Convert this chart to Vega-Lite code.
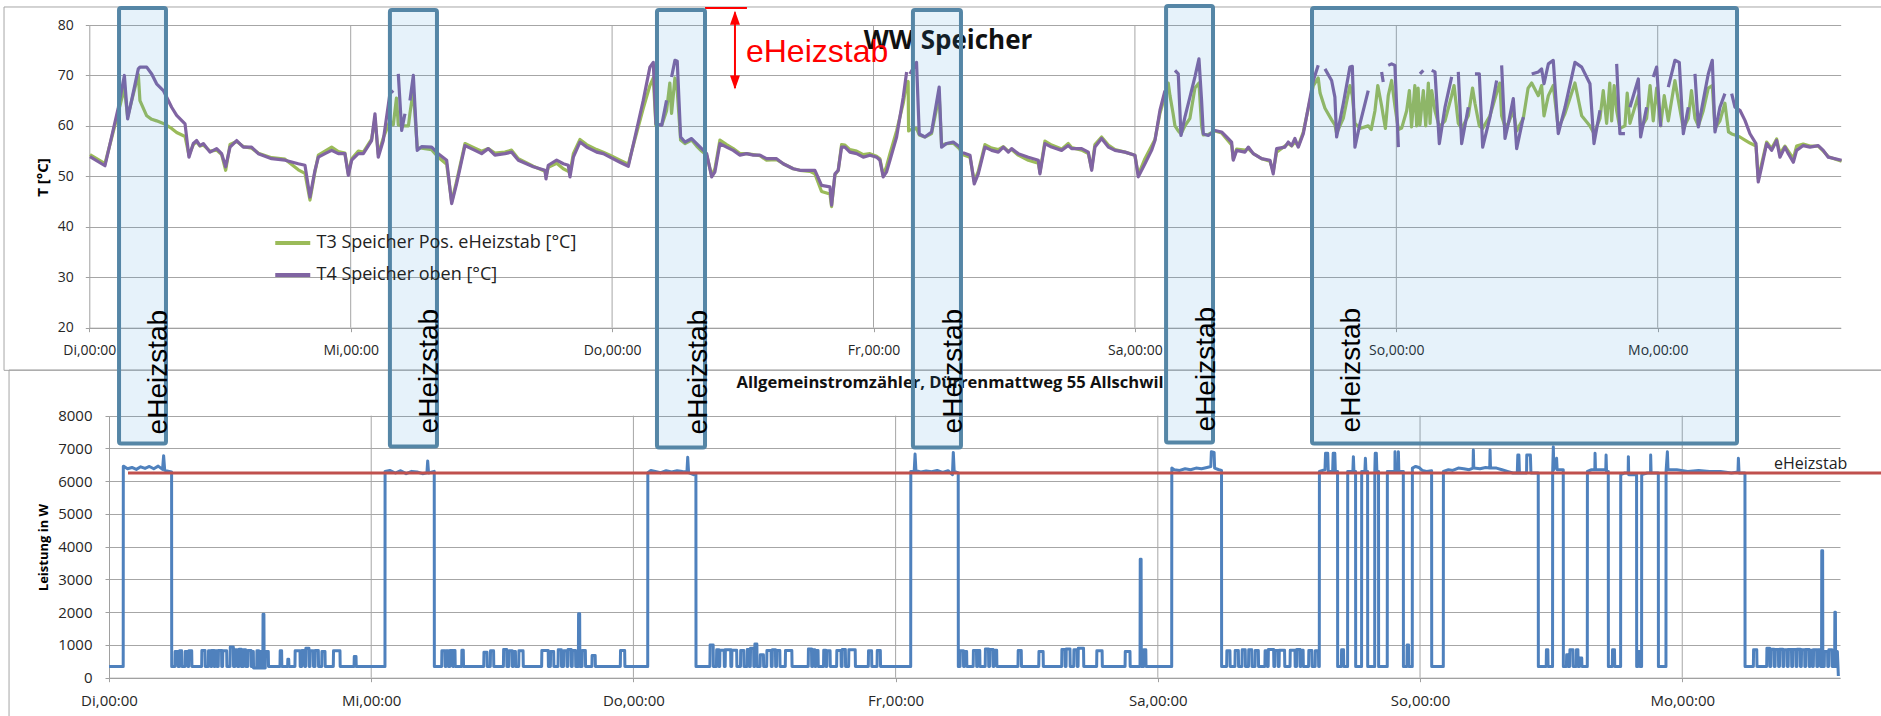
{
"$schema":"https://vega.github.io/schema/vega-lite/v6.json",
"width":1881,"height":716,"autosize":{"type":"none"},"padding":0,"background":"white",
"config":{"view":{"stroke":null},"font":"Open Sans"},
"datasets":{
"t":[
{"h":0.06,"a":54.3,"b":53.9},{"h":1.44,"a":52.5,"b":52.1},{"h":2.67,"a":62.8,"b":63.7},{"h":3.22,"a":67.5,"b":70.0},{"h":3.52,"a":61.8,"b":61.4},{"h":4.5,"a":70.2,"b":71.3},{"h":4.65,"a":65.0,"b":71.65},{"h":5.27,"a":62.0,"b":71.65},{"h":5.73,"a":61.3,"b":70.3},{"h":6.18,"a":61.0,"b":68.35},{"h":6.8,"a":60.5,"b":67.0},{"h":7.56,"a":59.5,"b":63.7},{"h":8.02,"a":58.7,"b":62.1},{"h":8.79,"a":57.9,"b":60.4},{"h":9.15,"a":54.2,"b":53.8},{"h":9.55,"a":56.3,"b":56.5},{"h":9.86,"a":56.8,"b":57.1},{"h":10.16,"a":56.0,"b":56.1},{"h":10.47,"a":56.2,"b":56.5},{"h":11.08,"a":55.0,"b":54.8},{"h":11.69,"a":55.2,"b":55.5},{"h":12.15,"a":54.3,"b":54.5},{"h":12.52,"a":51.2,"b":51.9},{"h":12.92,"a":56.3,"b":55.8},{"h":13.53,"a":56.9,"b":57.1},{"h":14.14,"a":55.9,"b":55.8},{"h":14.9,"a":55.6,"b":55.8},{"h":15.52,"a":54.6,"b":54.5},{"h":16.74,"a":53.7,"b":53.5},{"h":17.97,"a":53.4,"b":53.2},{"h":19.19,"a":51.3,"b":52.5},{"h":19.8,"a":50.6,"b":52.2},{"h":20.26,"a":45.3,"b":45.9},{"h":20.72,"a":50.9,"b":51.2},{"h":21.03,"a":54.2,"b":53.8},{"h":21.64,"a":55.0,"b":54.5},{"h":22.25,"a":55.8,"b":55.15},{"h":22.86,"a":54.9,"b":54.5},{"h":23.47,"a":54.6,"b":54.5},{"h":23.78,"a":50.5,"b":50.2},{"h":24.09,"a":53.5,"b":53.2},{"h":24.7,"a":55.0,"b":54.5},{"h":25.16,"a":54.8,"b":54.5},{"h":25.92,"a":57.4,"b":57.1},{"h":26.23,"a":61.5,"b":62.4},{"h":26.53,"a":54.4,"b":53.8},{"h":26.99,"a":57.6,"b":57.1},{"h":27.6,"a":61.0,"b":66.4},{"h":27.91,"a":60.2,"b":67.0},{"h":28.2,"a":65.5},{"h":28.37,"a":60.2,"b":70.3},{"h":28.68,"a":60.0,"b":59.1},{"h":28.98,"a":60.0,"b":62.4},{"h":29.3,"a":60.0},{"h":29.44,"a":62.5,"b":65.05},{"h":29.75,"a":67.0,"b":70.0},{"h":30.11,"a":55.6,"b":55.15},{"h":30.51,"a":55.6,"b":55.9},{"h":31.43,"a":55.3,"b":55.8},{"h":32.04,"a":53.8,"b":54.5},{"h":32.81,"a":52.4,"b":53.2},{"h":33.27,"a":45.0,"b":44.6},{"h":33.72,"a":49.0,"b":48.5},{"h":34.49,"a":56.5,"b":56.1},{"h":35.41,"a":55.6,"b":55.15},{"h":36.02,"a":55.0,"b":54.5},{"h":36.63,"a":55.5,"b":55.5},{"h":37.24,"a":54.6,"b":54.2},{"h":38.16,"a":54.8,"b":54.5},{"h":38.77,"a":55.2,"b":54.8},{"h":39.39,"a":53.5,"b":53.2},{"h":40.76,"a":52.0,"b":51.9},{"h":41.84,"a":51.0,"b":51.2},{"h":41.93,"a":50.0,"b":49.5},{"h":42.14,"a":51.8,"b":52.2},{"h":42.91,"a":52.6,"b":53.2},{"h":43.52,"a":51.5,"b":52.5},{"h":43.98,"a":51.0,"b":52.2},{"h":44.13,"a":50.6,"b":49.9},{"h":44.44,"a":54.5,"b":53.8},{"h":45.05,"a":57.3,"b":56.8},{"h":45.66,"a":56.3,"b":55.8},{"h":46.58,"a":55.3,"b":54.8},{"h":47.19,"a":54.8,"b":54.5},{"h":47.8,"a":54.2,"b":53.8},{"h":48.72,"a":53.2,"b":52.8},{"h":49.49,"a":52.4,"b":52.0},{"h":50.1,"a":57.4,"b":57.8},{"h":50.86,"a":63.5,"b":65.05},{"h":51.47,"a":68.0,"b":71.65},{"h":51.78,"a":69.5,"b":72.6},{"h":52.02,"a":60.1,"b":60.4},{"h":52.55,"a":60.1,"b":60.1},{"h":53.0,"a":63.0,"b":65.05},{"h":53.3,"a":68.5},{"h":53.46,"a":62.5,"b":69.7},{"h":53.77,"a":69.5,"b":73.0},{"h":53.98,"a":67.0,"b":72.8},{"h":54.17,"a":61.0,"b":63.7},{"h":54.29,"a":57.2,"b":57.8},{"h":54.69,"a":56.5,"b":56.8},{"h":55.3,"a":57.2,"b":57.5},{"h":55.76,"a":56.0,"b":56.5},{"h":56.22,"a":55.0,"b":55.5},{"h":56.68,"a":54.2,"b":54.5},{"h":57.14,"a":50.2,"b":49.9},{"h":57.44,"a":51.5,"b":50.9},{"h":57.9,"a":57.2,"b":56.5},{"h":58.51,"a":56.3,"b":55.8},{"h":59.12,"a":55.5,"b":55.15},{"h":59.74,"a":54.5,"b":54.2},{"h":60.35,"a":54.5,"b":54.5},{"h":60.96,"a":54.3,"b":54.2},{"h":61.57,"a":54.1,"b":54.2},{"h":62.18,"a":53.2,"b":53.5},{"h":63.1,"a":53.3,"b":53.5},{"h":63.71,"a":52.5,"b":52.5},{"h":64.63,"a":51.5,"b":51.5},{"h":65.24,"a":51.2,"b":51.2},{"h":66.16,"a":51.0,"b":51.2},{"h":66.62,"a":50.5,"b":51.2},{"h":67.23,"a":47.0,"b":48.2},{"h":68.0,"a":46.5,"b":47.9},{"h":68.15,"a":44.0,"b":44.3},{"h":68.46,"a":50.3,"b":50.5},{"h":68.76,"a":51.2,"b":51.2},{"h":69.07,"a":56.3,"b":55.8},{"h":69.38,"a":56.2,"b":55.8},{"h":69.83,"a":55.3,"b":54.8},{"h":70.45,"a":55.0,"b":54.5},{"h":71.06,"a":54.3,"b":53.8},{"h":71.67,"a":54.5,"b":54.2},{"h":72.28,"a":54.0,"b":53.8},{"h":72.59,"a":53.5,"b":53.2},{"h":72.89,"a":50.2,"b":49.9},{"h":73.2,"a":52.0,"b":50.9},{"h":73.51,"a":54.5,"b":53.2},{"h":74.12,"a":59.0,"b":57.8},{"h":74.73,"a":64.5,"b":65.7},{"h":75.04,"a":68.5,"b":70.7},{"h":75.18,"a":68.8},{"h":75.22,"a":59.0},{"h":75.34,"a":59.2,"b":70.3},{"h":75.95,"a":59.5,"b":72.6},{"h":76.2,"a":58.2,"b":58.4},{"h":76.72,"a":57.8,"b":57.8},{"h":77.33,"a":58.5,"b":58.8},{"h":78.03,"a":66.0,"b":67.7},{"h":78.25,"a":56.2,"b":55.8},{"h":78.71,"a":56.5,"b":56.5},{"h":79.32,"a":56.6,"b":56.8},{"h":79.93,"a":55.4,"b":55.8},{"h":80.09,"a":54.4,"b":54.8},{"h":80.86,"a":53.8,"b":54.2},{"h":81.25,"a":49.0,"b":48.5},{"h":81.62,"a":51.0,"b":50.5},{"h":82.23,"a":56.3,"b":55.8},{"h":82.85,"a":55.6,"b":55.15},{"h":83.46,"a":55.3,"b":54.8},{"h":83.92,"a":55.9,"b":55.8},{"h":84.38,"a":55.0,"b":54.8},{"h":84.68,"a":55.3,"b":55.5},{"h":85.29,"a":54.2,"b":54.5},{"h":86.21,"a":53.2,"b":53.8},{"h":87.13,"a":52.6,"b":53.2},{"h":87.28,"a":50.8,"b":50.5},{"h":87.74,"a":57.0,"b":56.5},{"h":88.35,"a":56.2,"b":55.8},{"h":89.27,"a":55.4,"b":55.15},{"h":89.88,"a":56.5,"b":56.1},{"h":90.19,"a":55.7,"b":55.5},{"h":91.11,"a":55.2,"b":55.5},{"h":91.72,"a":54.5,"b":54.8},{"h":92.03,"a":51.5,"b":51.2},{"h":92.33,"a":56.3,"b":55.8},{"h":92.94,"a":57.8,"b":57.5},{"h":93.56,"a":56.2,"b":55.8},{"h":94.17,"a":55.3,"b":55.15},{"h":95.09,"a":54.8,"b":54.8},{"h":96.0,"a":54.2,"b":54.2},{"h":96.31,"a":50.3,"b":49.9},{"h":96.92,"a":53.5,"b":52.5},{"h":97.53,"a":56.0,"b":55.15},{"h":97.84,"a":57.3,"b":57.1},{"h":98.3,"a":62.5,"b":63.1},{"h":98.76,"a":66.0,"b":67.0},{"h":99.06,"a":68.5},{"h":99.22,"a":66.0,"b":71.3},{"h":99.5,"a":62.5},{"h":99.68,"a":60.0,"b":71.0},{"h":99.98,"a":59.0,"b":70.3},{"h":100.23,"a":58.4,"b":58.1},{"h":100.59,"a":60.0,"b":61.75},{"h":101.05,"a":61.5,"b":65.7},{"h":101.51,"a":67.5,"b":69.7},{"h":101.88,"a":68.5,"b":73.3},{"h":102.12,"a":60.0,"b":65.05},{"h":102.28,"a":58.2,"b":58.45},{"h":102.74,"a":58.3,"b":58.1},{"h":103.35,"a":59.0,"b":59.1},{"h":103.96,"a":58.6,"b":58.8},{"h":104.42,"a":57.4,"b":57.8},{"h":104.88,"a":56.2,"b":56.8},{"h":105.03,"a":53.5,"b":53.2},{"h":105.34,"a":55.4,"b":55.15},{"h":106.1,"a":55.2,"b":54.8},{"h":106.41,"a":55.5,"b":55.8},{"h":106.87,"a":54.5,"b":54.5},{"h":107.63,"a":53.5,"b":53.5},{"h":108.4,"a":53.0,"b":53.2},{"h":108.7,"a":51.0,"b":50.5},{"h":109.01,"a":54.8,"b":55.5},{"h":109.77,"a":56.0,"b":55.8},{"h":110.08,"a":56.5,"b":56.8},{"h":110.39,"a":56.0,"b":56.1},{"h":110.69,"a":56.8,"b":57.5},{"h":111.0,"a":56.0,"b":55.8},{"h":111.46,"a":58.8,"b":58.45},{"h":111.92,"a":63.5,"b":63.7},{"h":112.38,"a":68.0,"b":69.0},{"h":112.83,"a":69.5,"b":72.0},{"h":113.0,"a":66.5},{"h":113.45,"a":63.5,"b":71.3},{"h":114.06,"a":61.2,"b":69.0},{"h":114.36,"a":60.2,"b":65.7},{"h":114.52,"a":58.5,"b":57.8},{"h":115.13,"a":61.5,"b":64.4},{"h":115.74,"a":68.0,"b":71.65},{"h":115.96,"a":66.0,"b":71.8},{"h":116.2,"a":60.5,"b":55.8},{"h":116.66,"a":59.5,"b":60.4},{"h":117.42,"a":60.0,"b":67.0},{"h":117.7,"a":59.3},{"h":118.04,"a":63.0,"b":71.3},{"h":118.3,"a":68.0},{"h":118.65,"a":64.0,"b":70.7},{"h":118.8,"a":62.0,"b":68.7},{"h":119.0,"a":59.5},{"h":119.26,"a":66.0,"b":72.0},{"h":119.57,"a":69.0,"b":72.3},{"h":119.87,"a":64.0,"b":72.0},{"h":120.19,"a":59.3,"b":55.8},{"h":120.5,"a":59.6},{"h":120.95,"a":63.0,"b":63.7},{"h":121.2,"a":67.0},{"h":121.4,"a":59.8},{"h":121.56,"a":64.0,"b":68.7},{"h":121.7,"a":68.0},{"h":121.87,"a":60.0,"b":69.0},{"h":122.0,"a":67.5},{"h":122.17,"a":60.2,"b":70.3},{"h":122.48,"a":67.0,"b":71.0},{"h":122.7,"a":60.0},{"h":122.94,"a":68.5,"b":71.3},{"h":123.1,"a":60.5},{"h":123.25,"a":67.0,"b":71.0},{"h":123.55,"a":63.0,"b":70.7},{"h":123.95,"a":59.8,"b":56.5},{"h":124.47,"a":61.0,"b":63.7},{"h":125.08,"a":66.0,"b":69.7},{"h":125.3,"a":68.0},{"h":125.69,"a":60.5,"b":70.7},{"h":126.0,"a":59.5,"b":56.5},{"h":126.61,"a":62.0,"b":63.7},{"h":127.0,"a":67.5},{"h":127.22,"a":64.5,"b":70.3},{"h":127.62,"a":60.0,"b":70.3},{"h":127.93,"a":59.5,"b":55.8},{"h":128.6,"a":62.0,"b":61.75},{"h":129.21,"a":66.5,"b":69.0},{"h":129.5,"a":68.5},{"h":129.67,"a":62.0,"b":72.0},{"h":129.98,"a":59.8,"b":57.5},{"h":130.28,"a":60.5,"b":60.4},{"h":130.74,"a":63.0,"b":65.4},{"h":131.05,"a":59.0,"b":55.5},{"h":131.66,"a":61.5,"b":61.75},{"h":132.1,"a":67.5},{"h":132.43,"a":68.5,"b":70.3},{"h":133.04,"a":66.0,"b":70.7},{"h":133.34,"a":68.0,"b":71.3},{"h":133.56,"a":62.0,"b":68.35},{"h":133.96,"a":66.0,"b":72.3},{"h":134.41,"a":68.0,"b":73.0},{"h":134.87,"a":59.5,"b":58.45},{"h":135.49,"a":62.5,"b":63.7},{"h":136.4,"a":68.5,"b":72.6},{"h":137.02,"a":62.0,"b":71.65},{"h":137.78,"a":60.0,"b":68.35},{"h":138.15,"a":58.5,"b":56.5},{"h":138.7,"a":61.5,"b":63.1},{"h":139.0,"a":67.0},{"h":139.31,"a":60.5,"b":69.0},{"h":139.6,"a":68.5},{"h":139.77,"a":61.0,"b":72.0},{"h":140.0,"a":68.0},{"h":140.23,"a":63.0,"b":72.3},{"h":140.53,"a":59.5,"b":58.45},{"h":140.99,"a":60.0,"b":58.45},{"h":141.2,"a":66.5},{"h":141.45,"a":60.5,"b":63.7},{"h":142.22,"a":66.0,"b":69.3},{"h":142.43,"a":59.5,"b":57.8},{"h":142.98,"a":61.5,"b":63.7},{"h":143.3,"a":68.0},{"h":143.59,"a":61.0,"b":69.7},{"h":143.9,"a":67.5,"b":71.65},{"h":144.27,"a":60.0,"b":59.8},{"h":144.6,"a":66.0},{"h":144.97,"a":61.0,"b":67.7},{"h":145.58,"a":69.0,"b":73.0},{"h":145.98,"a":64.0,"b":72.6},{"h":146.35,"a":59.5,"b":58.45},{"h":146.81,"a":61.5,"b":63.7},{"h":147.1,"a":67.0},{"h":147.42,"a":61.5,"b":70.3},{"h":147.73,"a":60.0,"b":59.8},{"h":148.18,"a":63.0,"b":65.05},{"h":148.64,"a":67.5,"b":70.3},{"h":149.01,"a":68.0,"b":73.0},{"h":149.26,"a":59.5,"b":58.8},{"h":149.71,"a":61.0,"b":63.7},{"h":150.17,"a":64.5,"b":66.4},{"h":150.5,"a":58.8},{"h":150.79,"a":58.4,"b":66.4},{"h":151.09,"a":58.2,"b":63.7},{"h":151.55,"a":57.8,"b":63.1},{"h":152.01,"a":57.2,"b":61.1},{"h":152.47,"a":56.6,"b":58.45},{"h":153.02,"a":56.0,"b":56.5},{"h":153.23,"a":49.5,"b":48.9},{"h":153.54,"a":52.5,"b":51.85},{"h":154.0,"a":56.8,"b":56.5},{"h":154.46,"a":55.5,"b":55.15},{"h":154.92,"a":57.4,"b":57.1},{"h":155.22,"a":54.5,"b":53.8},{"h":155.68,"a":56.0,"b":55.8},{"h":155.99,"a":55.0,"b":54.5},{"h":156.45,"a":53.5,"b":52.8},{"h":156.75,"a":56.0,"b":55.15},{"h":157.36,"a":56.4,"b":56.1},{"h":157.98,"a":56.0,"b":55.8},{"h":158.74,"a":56.0,"b":56.1},{"h":159.2,"a":55.0,"b":55.15},{"h":159.66,"a":53.9,"b":53.8},{"h":160.88,"a":53.0,"b":53.2}
],
"p":[
{"h":0,"p":340},{"h":1.3,"p":340},{"h":1.31,"p":6460},{"h":1.7,"p":6380},{"h":2.1,"p":6420},{"h":2.5,"p":6360},{"h":2.9,"p":6440},{"h":3.3,"p":6390},{"h":3.7,"p":6450},{"h":4.1,"p":6380},{"h":4.5,"p":6460},{"h":4.9,"p":6360},{"h":5.0,"p":6780},{"h":5.1,"p":6330},{"h":5.5,"p":6300},{"h":5.73,"p":6280},{"h":5.74,"p":340},
{"h":6.04,"p":340},{"h":6.06,"p":800},{"h":6.3,"p":800},{"h":6.32,"p":340},{"h":6.45,"p":340},{"h":6.47,"p":820},{"h":6.65,"p":820},{"h":6.67,"p":340},{"h":6.96,"p":340},{"h":6.98,"p":800},{"h":7.2,"p":800},{"h":7.22,"p":340},{"h":7.3,"p":340},{"h":7.32,"p":820},{"h":7.57,"p":820},{"h":7.59,"p":340},{"h":8.48,"p":340},{"h":8.5,"p":830},{"h":8.79,"p":830},{"h":8.81,"p":340},{"h":9.09,"p":340},{"h":9.11,"p":820},{"h":9.3,"p":820},{"h":9.32,"p":340},{"h":9.4,"p":340},{"h":9.42,"p":830},{"h":9.6,"p":830},{"h":9.62,"p":340},{"h":9.7,"p":340},{"h":9.72,"p":820},{"h":9.86,"p":820},{"h":9.88,"p":340},{"h":10.0,"p":340},{"h":10.02,"p":830},{"h":10.3,"p":830},{"h":10.32,"p":340},{"h":10.4,"p":340},{"h":10.42,"p":820},{"h":10.77,"p":820},{"h":10.79,"p":340},{"h":11.08,"p":340},{"h":11.1,"p":940},{"h":11.38,"p":940},{"h":11.4,"p":340},{"h":11.53,"p":340},{"h":11.55,"p":850},{"h":11.75,"p":850},{"h":11.77,"p":340},{"h":11.9,"p":340},{"h":11.92,"p":870},{"h":12.1,"p":870},{"h":12.12,"p":340},{"h":12.3,"p":340},{"h":12.32,"p":850},{"h":12.5,"p":850},{"h":12.52,"p":340},{"h":12.7,"p":340},{"h":12.72,"p":830},{"h":13.0,"p":830},{"h":13.02,"p":340},{"h":13.1,"p":340},{"h":13.12,"p":800},{"h":13.21,"p":800},{"h":13.23,"p":300},{"h":13.52,"p":300},{"h":13.54,"p":820},{"h":13.7,"p":820},{"h":13.72,"p":300},{"h":13.8,"p":300},{"h":13.82,"p":800},{"h":13.97,"p":800},{"h":13.99,"p":300},{"h":14.08,"p":300},{"h":14.1,"p":1940},{"h":14.18,"p":1940},{"h":14.2,"p":300},{"h":14.3,"p":300},{"h":14.32,"p":800},{"h":14.58,"p":800},{"h":14.6,"p":340},{"h":15.65,"p":340},{"h":15.67,"p":820},{"h":15.8,"p":820},{"h":15.82,"p":340},{"h":16.35,"p":340},{"h":16.37,"p":560},{"h":16.45,"p":560},{"h":16.47,"p":340},{"h":17.02,"p":340},{"h":17.04,"p":820},{"h":17.48,"p":820},{"h":17.5,"p":340},{"h":17.64,"p":340},{"h":17.66,"p":830},{"h":17.9,"p":830},{"h":17.92,"p":340},{"h":18.0,"p":340},{"h":18.02,"p":900},{"h":18.3,"p":900},{"h":18.32,"p":340},{"h":18.4,"p":340},{"h":18.42,"p":820},{"h":18.7,"p":820},{"h":18.72,"p":340},{"h":18.86,"p":340},{"h":18.88,"p":830},{"h":19.16,"p":830},{"h":19.18,"p":340},{"h":19.47,"p":340},{"h":19.49,"p":800},{"h":19.77,"p":800},{"h":19.79,"p":340},{"h":20.53,"p":340},{"h":20.55,"p":820},{"h":21.14,"p":820},{"h":21.16,"p":340},{"h":22.43,"p":340},{"h":22.45,"p":650},{"h":22.61,"p":650},{"h":22.63,"p":340},
{"h":25.26,"p":340},{"h":25.27,"p":6300},{"h":25.7,"p":6330},{"h":26.2,"p":6250},{"h":26.7,"p":6320},{"h":27.2,"p":6230},{"h":27.7,"p":6300},{"h":28.2,"p":6280},{"h":28.7,"p":6230},{"h":29.1,"p":6260},{"h":29.17,"p":6620},{"h":29.25,"p":6250},{"h":29.77,"p":6300},{"h":29.78,"p":340},
{"h":30.45,"p":340},{"h":30.47,"p":820},{"h":30.75,"p":820},{"h":30.77,"p":340},{"h":30.85,"p":340},{"h":30.87,"p":820},{"h":31.06,"p":820},{"h":31.08,"p":340},{"h":31.21,"p":340},{"h":31.23,"p":830},{"h":31.45,"p":830},{"h":31.47,"p":340},{"h":31.55,"p":340},{"h":31.57,"p":830},{"h":31.67,"p":830},{"h":31.69,"p":340},{"h":32.28,"p":340},{"h":32.3,"p":840},{"h":32.43,"p":840},{"h":32.45,"p":340},{"h":34.3,"p":340},{"h":34.32,"p":780},{"h":34.6,"p":780},{"h":34.62,"p":340},{"h":34.9,"p":340},{"h":34.92,"p":820},{"h":35.2,"p":820},{"h":35.22,"p":340},{"h":36.1,"p":340},{"h":36.12,"p":860},{"h":36.4,"p":860},{"h":36.42,"p":340},{"h":36.6,"p":340},{"h":36.62,"p":820},{"h":36.9,"p":820},{"h":36.92,"p":340},{"h":37.0,"p":340},{"h":37.02,"p":800},{"h":37.2,"p":800},{"h":37.22,"p":340},{"h":37.5,"p":340},{"h":37.52,"p":820},{"h":37.9,"p":820},{"h":37.92,"p":340},{"h":39.6,"p":340},{"h":39.62,"p":830},{"h":40.2,"p":830},{"h":40.22,"p":340},{"h":40.4,"p":340},{"h":40.42,"p":800},{"h":40.7,"p":800},{"h":40.72,"p":340},{"h":41.1,"p":340},{"h":41.12,"p":850},{"h":41.4,"p":850},{"h":41.42,"p":340},{"h":41.6,"p":340},{"h":41.62,"p":820},{"h":41.9,"p":820},{"h":41.92,"p":340},{"h":42.0,"p":340},{"h":42.02,"p":860},{"h":42.3,"p":860},{"h":42.32,"p":340},{"h":42.4,"p":340},{"h":42.42,"p":830},{"h":42.7,"p":830},{"h":42.72,"p":340},{"h":42.96,"p":340},{"h":42.98,"p":1950},{"h":43.08,"p":1950},{"h":43.1,"p":340},{"h":43.3,"p":340},{"h":43.32,"p":830},{"h":43.6,"p":830},{"h":43.62,"p":340},{"h":44.2,"p":340},{"h":44.22,"p":680},{"h":44.5,"p":680},{"h":44.52,"p":340},{"h":46.8,"p":340},{"h":46.82,"p":830},{"h":47.2,"p":830},{"h":47.22,"p":340},
{"h":49.31,"p":340},{"h":49.32,"p":6260},{"h":49.6,"p":6330},{"h":50.0,"p":6300},{"h":50.5,"p":6260},{"h":51.0,"p":6320},{"h":51.5,"p":6280},{"h":52.0,"p":6320},{"h":52.5,"p":6300},{"h":52.9,"p":6290},{"h":52.97,"p":6730},{"h":53.05,"p":6260},{"h":53.5,"p":6200},{"h":53.72,"p":6240},{"h":53.73,"p":340},
{"h":55.0,"p":340},{"h":55.02,"p":1000},{"h":55.3,"p":1000},{"h":55.32,"p":340},{"h":55.6,"p":340},{"h":55.62,"p":850},{"h":55.8,"p":850},{"h":55.82,"p":340},{"h":55.9,"p":340},{"h":55.92,"p":840},{"h":56.3,"p":840},{"h":56.32,"p":340},{"h":56.4,"p":340},{"h":56.42,"p":850},{"h":56.9,"p":850},{"h":56.92,"p":340},{"h":57.0,"p":340},{"h":57.02,"p":840},{"h":57.45,"p":840},{"h":57.47,"p":340},{"h":57.8,"p":340},{"h":57.82,"p":830},{"h":58.1,"p":830},{"h":58.12,"p":340},{"h":58.4,"p":340},{"h":58.42,"p":860},{"h":58.6,"p":860},{"h":58.62,"p":340},{"h":58.7,"p":340},{"h":58.72,"p":900},{"h":59.0,"p":900},{"h":59.02,"p":340},{"h":59.1,"p":340},{"h":59.12,"p":1030},{"h":59.3,"p":1030},{"h":59.32,"p":340},{"h":59.6,"p":340},{"h":59.62,"p":700},{"h":59.9,"p":700},{"h":59.92,"p":340},{"h":60.2,"p":340},{"h":60.22,"p":830},{"h":60.6,"p":830},{"h":60.62,"p":340},{"h":60.7,"p":340},{"h":60.72,"p":850},{"h":61.0,"p":850},{"h":61.02,"p":340},{"h":61.1,"p":340},{"h":61.12,"p":830},{"h":61.4,"p":830},{"h":61.42,"p":340},{"h":61.9,"p":340},{"h":61.92,"p":830},{"h":62.5,"p":830},{"h":62.52,"p":340},{"h":64.0,"p":340},{"h":64.02,"p":880},{"h":64.3,"p":880},{"h":64.32,"p":340},{"h":64.4,"p":340},{"h":64.42,"p":850},{"h":64.6,"p":850},{"h":64.62,"p":340},{"h":64.7,"p":340},{"h":64.72,"p":830},{"h":64.9,"p":830},{"h":64.92,"p":340},{"h":65.4,"p":340},{"h":65.42,"p":840},{"h":65.6,"p":840},{"h":65.62,"p":340},{"h":65.7,"p":340},{"h":65.72,"p":820},{"h":66.0,"p":820},{"h":66.02,"p":340},{"h":66.6,"p":340},{"h":66.62,"p":830},{"h":67.0,"p":830},{"h":67.02,"p":340},{"h":67.1,"p":340},{"h":67.12,"p":860},{"h":67.4,"p":860},{"h":67.42,"p":340},{"h":67.7,"p":340},{"h":67.72,"p":850},{"h":68.3,"p":850},{"h":68.32,"p":340},{"h":69.5,"p":340},{"h":69.52,"p":820},{"h":69.8,"p":820},{"h":69.82,"p":340},{"h":70.3,"p":340},{"h":70.32,"p":830},{"h":70.6,"p":830},{"h":70.62,"p":340},
{"h":73.38,"p":340},{"h":73.39,"p":6300},{"h":73.7,"p":6300},{"h":73.78,"p":6830},{"h":73.86,"p":6320},{"h":74.3,"p":6280},{"h":74.8,"p":6310},{"h":75.3,"p":6290},{"h":75.8,"p":6330},{"h":76.3,"p":6270},{"h":76.8,"p":6320},{"h":77.2,"p":6200},{"h":77.28,"p":6880},{"h":77.36,"p":6300},{"h":77.73,"p":6250},{"h":77.74,"p":340},
{"h":77.9,"p":340},{"h":77.92,"p":820},{"h":78.2,"p":820},{"h":78.22,"p":340},{"h":78.3,"p":340},{"h":78.32,"p":800},{"h":78.5,"p":800},{"h":78.52,"p":340},{"h":79.1,"p":340},{"h":79.12,"p":830},{"h":79.4,"p":830},{"h":79.42,"p":340},{"h":79.5,"p":340},{"h":79.52,"p":830},{"h":79.7,"p":830},{"h":79.72,"p":340},{"h":80.2,"p":340},{"h":80.22,"p":880},{"h":80.5,"p":880},{"h":80.52,"p":340},{"h":80.6,"p":340},{"h":80.62,"p":860},{"h":80.9,"p":860},{"h":80.92,"p":340},{"h":81.0,"p":340},{"h":81.02,"p":840},{"h":81.25,"p":840},{"h":81.27,"p":340},{"h":83.2,"p":340},{"h":83.22,"p":830},{"h":83.5,"p":830},{"h":83.52,"p":340},{"h":85.1,"p":340},{"h":85.12,"p":800},{"h":85.5,"p":800},{"h":85.52,"p":340},{"h":87.2,"p":340},{"h":87.22,"p":860},{"h":87.5,"p":860},{"h":87.52,"p":340},{"h":87.6,"p":340},{"h":87.62,"p":880},{"h":87.96,"p":880},{"h":87.98,"p":340},{"h":88.3,"p":340},{"h":88.32,"p":850},{"h":88.6,"p":850},{"h":88.62,"p":340},{"h":88.7,"p":340},{"h":88.72,"p":900},{"h":89.2,"p":900},{"h":89.22,"p":340},{"h":90.4,"p":340},{"h":90.42,"p":820},{"h":90.9,"p":820},{"h":90.92,"p":340},{"h":93.0,"p":340},{"h":93.02,"p":800},{"h":93.45,"p":800},{"h":93.47,"p":340},{"h":94.37,"p":340},{"h":94.39,"p":3620},{"h":94.47,"p":3620},{"h":94.49,"p":340},{"h":94.7,"p":340},{"h":94.72,"p":850},{"h":94.9,"p":850},{"h":94.92,"p":340},
{"h":97.27,"p":340},{"h":97.28,"p":6400},{"h":97.5,"p":6350},{"h":98.0,"p":6330},{"h":98.5,"p":6380},{"h":99.0,"p":6350},{"h":99.5,"p":6400},{"h":100.0,"p":6380},{"h":100.5,"p":6420},{"h":100.85,"p":6450},{"h":100.9,"p":6900},{"h":101.15,"p":6880},{"h":101.2,"p":6400},{"h":101.6,"p":6350},{"h":101.83,"p":6330},{"h":101.84,"p":340},
{"h":102.3,"p":340},{"h":102.32,"p":820},{"h":102.6,"p":820},{"h":102.62,"p":340},{"h":103.06,"p":340},{"h":103.08,"p":830},{"h":103.37,"p":830},{"h":103.39,"p":340},{"h":103.7,"p":340},{"h":103.72,"p":850},{"h":104.0,"p":850},{"h":104.02,"p":340},{"h":104.3,"p":340},{"h":104.32,"p":850},{"h":104.6,"p":850},{"h":104.62,"p":340},{"h":104.9,"p":340},{"h":104.92,"p":830},{"h":105.2,"p":830},{"h":105.22,"p":340},{"h":105.8,"p":340},{"h":105.82,"p":820},{"h":106.0,"p":820},{"h":106.02,"p":340},{"h":106.1,"p":340},{"h":106.12,"p":860},{"h":106.6,"p":860},{"h":106.62,"p":340},{"h":106.7,"p":340},{"h":106.72,"p":830},{"h":107.0,"p":830},{"h":107.02,"p":340},{"h":107.1,"p":340},{"h":107.12,"p":840},{"h":107.6,"p":840},{"h":107.62,"p":340},{"h":108.1,"p":340},{"h":108.12,"p":840},{"h":108.55,"p":840},{"h":108.57,"p":340},{"h":108.7,"p":340},{"h":108.72,"p":860},{"h":109.0,"p":860},{"h":109.02,"p":340},{"h":109.1,"p":340},{"h":109.12,"p":840},{"h":109.3,"p":840},{"h":109.32,"p":340},{"h":109.8,"p":340},{"h":109.82,"p":830},{"h":110.1,"p":830},{"h":110.12,"p":340},{"h":110.4,"p":340},{"h":110.42,"p":820},{"h":110.7,"p":820},{"h":110.72,"p":340},
{"h":110.78,"p":340},{"h":110.79,"p":6300},{"h":111.3,"p":6350},{"h":111.35,"p":6850},{"h":111.55,"p":6850},{"h":111.6,"p":6300},{"h":112.0,"p":6300},{"h":112.05,"p":6850},{"h":112.2,"p":6850},{"h":112.25,"p":6300},{"h":112.45,"p":6300},{"h":112.46,"p":340},{"h":112.8,"p":340},{"h":112.82,"p":850},{"h":113.0,"p":850},{"h":113.02,"p":340},{"h":113.37,"p":340},{"h":113.38,"p":6300},{"h":113.85,"p":6300},{"h":113.9,"p":6750},{"h":113.95,"p":6300},{"h":114.1,"p":6300},{"h":114.11,"p":340},{"h":114.65,"p":340},{"h":114.66,"p":6300},{"h":114.95,"p":6300},{"h":115.0,"p":6700},{"h":115.05,"p":6300},{"h":115.2,"p":6300},{"h":115.21,"p":340},{"h":115.85,"p":340},{"h":115.86,"p":6300},{"h":115.9,"p":6850},{"h":116.0,"p":6850},{"h":116.05,"p":6300},{"h":116.2,"p":6300},{"h":116.21,"p":340},{"h":117.0,"p":340},{"h":117.01,"p":6300},{"h":117.7,"p":6300},{"h":117.71,"p":6900},{"h":117.75,"p":6300},{"h":118.0,"p":6300},{"h":118.02,"p":6900},{"h":118.06,"p":6300},{"h":118.47,"p":6300},{"h":118.48,"p":340},{"h":118.8,"p":340},{"h":118.82,"p":1000},{"h":118.95,"p":1000},{"h":118.97,"p":340},{"h":119.29,"p":340},{"h":119.3,"p":6400},{"h":119.6,"p":6450},{"h":119.9,"p":6420},{"h":120.2,"p":6330},{"h":120.6,"p":6300},{"h":121.06,"p":6320},{"h":121.07,"p":340},{"h":122.13,"p":340},{"h":122.14,"p":6300},{"h":122.6,"p":6350},{"h":123.0,"p":6330},{"h":123.5,"p":6400},{"h":124.0,"p":6380},{"h":124.5,"p":6350},{"h":124.85,"p":6400},{"h":124.88,"p":6950},{"h":124.92,"p":6400},{"h":125.5,"p":6380},{"h":126.0,"p":6420},{"h":126.38,"p":6400},{"h":126.41,"p":6950},{"h":126.45,"p":6400},{"h":127.0,"p":6400},{"h":127.5,"p":6350},{"h":128.0,"p":6300},{"h":128.5,"p":6250},{"h":128.9,"p":6250},{"h":128.95,"p":6800},{"h":129.05,"p":6800},{"h":129.1,"p":6250},{"h":129.5,"p":6250},{"h":129.75,"p":6250},{"h":129.77,"p":6800},{"h":130.1,"p":6800},{"h":130.15,"p":6250},{"h":130.82,"p":6250},{"h":130.83,"p":340},{"h":131.55,"p":340},{"h":131.57,"p":850},{"h":131.7,"p":850},{"h":131.72,"p":340},{"h":132.13,"p":340},{"h":132.14,"p":6300},{"h":132.2,"p":7050},{"h":132.25,"p":6350},{"h":132.5,"p":6700},{"h":132.55,"p":6350},{"h":133.11,"p":6350},{"h":133.12,"p":340},{"h":133.4,"p":340},{"h":133.42,"p":700},{"h":133.55,"p":700},{"h":133.57,"p":340},{"h":133.7,"p":340},{"h":133.72,"p":850},{"h":134.0,"p":850},{"h":134.02,"p":340},{"h":134.3,"p":340},{"h":134.32,"p":850},{"h":134.45,"p":850},{"h":134.47,"p":340},{"h":134.6,"p":340},{"h":134.62,"p":600},{"h":134.8,"p":600},{"h":134.82,"p":340},{"h":135.31,"p":340},{"h":135.32,"p":6300},{"h":135.7,"p":6350},{"h":136.0,"p":6350},{"h":136.02,"p":6850},{"h":136.06,"p":6350},{"h":136.6,"p":6350},{"h":137.0,"p":6350},{"h":137.03,"p":6800},{"h":137.07,"p":6300},{"h":137.23,"p":6300},{"h":137.24,"p":340},{"h":137.6,"p":340},{"h":137.62,"p":850},{"h":137.8,"p":850},{"h":137.82,"p":340},{"h":138.36,"p":340},{"h":138.37,"p":6200},{"h":138.7,"p":6250},{"h":139.05,"p":6250},{"h":139.07,"p":6750},{"h":139.1,"p":6200},{"h":139.82,"p":6200},{"h":139.83,"p":340},{"h":139.95,"p":340},{"h":139.97,"p":800},{"h":140.1,"p":800},{"h":140.12,"p":340},{"h":140.28,"p":340},{"h":140.29,"p":6200},{"h":140.8,"p":6250},{"h":141.1,"p":6250},{"h":141.11,"p":6800},{"h":141.15,"p":6250},{"h":141.81,"p":6250},{"h":141.82,"p":340},{"h":142.51,"p":340},{"h":142.52,"p":6300},{"h":142.64,"p":6900},{"h":142.7,"p":6350},{"h":143.5,"p":6350},{"h":144.5,"p":6300},{"h":145.5,"p":6330},{"h":146.5,"p":6300},{"h":147.5,"p":6300},{"h":148.5,"p":6250},{"h":149.1,"p":6280},{"h":149.14,"p":6700},{"h":149.2,"p":6250},{"h":149.74,"p":6250},{"h":149.75,"p":340},
{"h":150.51,"p":340},{"h":150.53,"p":850},{"h":150.82,"p":850},{"h":150.84,"p":340},{"h":151.73,"p":340},{"h":151.75,"p":900},{"h":152.0,"p":900},{"h":152.02,"p":340},{"h":152.1,"p":340},{"h":152.12,"p":870},{"h":152.4,"p":870},{"h":152.42,"p":340},{"h":152.5,"p":340},{"h":152.52,"p":860},{"h":152.8,"p":860},{"h":152.82,"p":340},{"h":152.9,"p":340},{"h":152.92,"p":870},{"h":153.2,"p":870},{"h":153.22,"p":340},{"h":153.3,"p":340},{"h":153.32,"p":850},{"h":153.6,"p":850},{"h":153.62,"p":340},{"h":153.7,"p":340},{"h":153.72,"p":860},{"h":154.0,"p":860},{"h":154.02,"p":340},{"h":154.1,"p":340},{"h":154.12,"p":860},{"h":154.4,"p":860},{"h":154.42,"p":340},{"h":154.5,"p":340},{"h":154.52,"p":870},{"h":154.8,"p":870},{"h":154.82,"p":340},{"h":154.9,"p":340},{"h":154.92,"p":850},{"h":155.2,"p":850},{"h":155.22,"p":340},{"h":155.3,"p":340},{"h":155.32,"p":860},{"h":155.6,"p":860},{"h":155.62,"p":340},{"h":155.7,"p":340},{"h":155.72,"p":840},{"h":155.9,"p":840},{"h":155.92,"p":340},{"h":156.0,"p":340},{"h":156.02,"p":850},{"h":156.3,"p":850},{"h":156.32,"p":340},{"h":156.4,"p":340},{"h":156.42,"p":850},{"h":156.65,"p":850},{"h":156.67,"p":340},{"h":156.75,"p":340},{"h":156.77,"p":3880},{"h":156.85,"p":3880},{"h":156.87,"p":340},{"h":157.0,"p":340},{"h":157.02,"p":800},{"h":157.3,"p":800},{"h":157.32,"p":340},{"h":157.4,"p":340},{"h":157.42,"p":850},{"h":157.7,"p":850},{"h":157.72,"p":340},{"h":157.95,"p":340},{"h":157.97,"p":2000},{"h":158.02,"p":2000},{"h":158.04,"p":340},{"h":158.15,"p":340},{"h":158.2,"p":800},{"h":158.29,"p":50}
],
"r":[
{"x1":2.73,"x2":7.04,"y1":83.37,"y2":-2.94,"tx":7.13,"ty":-1.15},
{"x1":27.6,"x2":31.92,"y1":82.98,"y2":-3.53,"tx":32.01,"ty":-0.95},
{"x1":52.12,"x2":56.53,"y1":82.98,"y2":-3.73,"tx":56.71,"ty":-1.15},
{"x1":75.62,"x2":80.03,"y1":82.98,"y2":-3.73,"tx":80.12,"ty":-0.95},
{"x1":98.86,"x2":103.17,"y1":83.77,"y2":-2.74,"tx":103.35,"ty":-0.56},
{"x1":112.26,"x2":151.28,"y1":83.37,"y2":-2.94,"tx":116.67,"ty":-0.75}
],
"days":[{"d":24},{"d":48},{"d":72},{"d":96},{"d":120},{"d":144}]
},
"layer":[
{"data":{"values":[{}]},"mark":{"type":"rect","fillOpacity":0,"stroke":"#a6a6a6","strokeWidth":1},
 "encoding":{"x":{"datum":-7.83,"type":"quantitative","scale":{"domain":[0,160.8],"range":[89.3,1840.7],"nice":false,"zero":false},"axis":null},"x2":{"datum":165.3},
 "y":{"datum":83.57,"type":"quantitative","scale":{"domain":[20,80],"range":[327.7,25],"nice":false,"zero":false},"axis":null},"y2":{"datum":11.55}}},
{"data":{"values":[{}]},"mark":{"type":"rect","fillOpacity":0,"stroke":"#a6a6a6","strokeWidth":1},
 "encoding":{"x":{"datum":-9.15,"type":"quantitative","scale":{"domain":[0,158.44],"range":[109,1840],"nice":false,"zero":false},"axis":null},"x2":{"datum":175},
 "y":{"datum":9395,"type":"quantitative","scale":{"domain":[0,8000],"range":[677.7,415.7],"nice":false,"zero":false},"axis":null},"y2":{"datum":-3000}}},
{"data":{"name":"days"},"mark":{"type":"rule","color":"#a6a6a6","strokeWidth":1},
 "encoding":{"x":{"field":"d","type":"quantitative","scale":{"domain":[0,160.8],"range":[89.3,1840.7],"nice":false,"zero":false},"axis":null},
 "y":{"datum":20,"type":"quantitative","scale":{"domain":[20,80],"range":[327.7,25],"nice":false,"zero":false},"axis":null},"y2":{"datum":80}}},
{"data":{"name":"days"},"mark":{"type":"rule","color":"#a6a6a6","strokeWidth":1},
 "encoding":{"x":{"field":"d","type":"quantitative","scale":{"domain":[0,158.44],"range":[109,1840],"nice":false,"zero":false},"axis":null},
 "y":{"datum":0,"type":"quantitative","scale":{"domain":[0,8000],"range":[677.7,415.7],"nice":false,"zero":false},"axis":null},"y2":{"datum":8000}}},
{"data":{"name":"t"},"transform":[{"fold":["a","b"],"as":["s","T"]}],
 "mark":{"type":"line","strokeWidth":3.2,"strokeJoin":"round"},
 "encoding":{
  "x":{"field":"h","type":"quantitative","scale":{"domain":[0,160.8],"range":[89.3,1840.7],"nice":false,"zero":false},
   "axis":{"orient":"bottom","offset":-388.3,"values":[0,24,48,72,96,120,144],"labelExpr":"['Di','Mi','Do','Fr','Sa','So','Mo'][round(datum.value/24)] + ',00:00'","labelFlush":false,"labelOverlap":false,"grid":false,"title":null,"labelFontSize":14,"labelPadding":12,"tickSize":4,"domainColor":"#a0a0a0","tickColor":"#a0a0a0","labelColor":"#262626","labelFont":"Open Sans"}},
  "y":{"field":"T","type":"quantitative","scale":{"domain":[20,80],"range":[327.7,25],"nice":false,"zero":false},
   "axis":{"orient":"left","offset":-89.3,"values":[20,30,40,50,60,70,80],"grid":true,"gridColor":"#a6a6a6","domainColor":"#a0a0a0","tickColor":"#a0a0a0","labelColor":"#262626","labelFont":"Open Sans","labelFontSize":14,"labelPadding":12,"tickSize":4,"labelFlush":false,"title":"T [°C]","titleFont":"Open Sans","titleFontSize":15,"titleFontWeight":"bold","titleColor":"#000","titleAngle":270,"titleAlign":"center","titleBaseline":"middle","titleX":-47,"titleY":177}},
  "color":{"field":"s","type":"nominal","scale":{"domain":["a","b"],"range":["#9bbb59","#8064a2"]},
   "legend":{"orient":"none","legendX":281.75,"legendY":232,"title":null,"symbolType":"M-2,0H2","symbolSize":306.25,"symbolStrokeWidth":4,"labelFontSize":18,"labelFont":"Open Sans","labelColor":"#222","labelLimit":0,"labelOffset":12.75,"rowPadding":12,"padding":0,"labelExpr":"datum.label == 'a' ? 'T3 Speicher Pos. eHeizstab [°C]' : 'T4 Speicher oben [°C]'"}}}},
{"data":{"values":[{}]},"mark":{"type":"text","text":"WW Speicher","font":"Open Sans","fontWeight":"bold","fontSize":26,"color":"#111","align":"center","baseline":"alphabetic"},
 "encoding":{"x":{"datum":78.84,"type":"quantitative","scale":{"domain":[0,160.8],"range":[89.3,1840.7],"nice":false,"zero":false},"axis":null},"y":{"datum":75.18,"type":"quantitative","scale":{"domain":[20,80],"range":[327.7,25],"nice":false,"zero":false},"axis":null}}},
{"data":{"values":[{}]},"mark":{"type":"rule","color":"#ff0000","strokeWidth":2},
 "encoding":{"x":{"datum":56.53,"type":"quantitative","scale":{"domain":[0,160.8],"range":[89.3,1840.7],"nice":false,"zero":false},"axis":null},"x2":{"datum":60.38},"y":{"datum":83.37,"type":"quantitative","scale":{"domain":[20,80],"range":[327.7,25],"nice":false,"zero":false},"axis":null}}},
{"data":{"values":[{}]},"mark":{"type":"rule","color":"#ff0000","strokeWidth":2},
 "encoding":{"x":{"datum":59.28,"type":"quantitative","scale":{"domain":[0,160.8],"range":[89.3,1840.7],"nice":false,"zero":false},"axis":null},"y":{"datum":82.5,"type":"quantitative","scale":{"domain":[20,80],"range":[327.7,25],"nice":false,"zero":false},"axis":null},"y2":{"datum":67.5}}},
{"data":{"values":[{}]},"mark":{"type":"point","shape":"M0,-1L-0.71,1L0.71,1Z","filled":true,"size":196,"color":"#ff0000","opacity":1},
 "encoding":{"x":{"datum":59.28,"type":"quantitative","scale":{"domain":[0,160.8],"range":[89.3,1840.7],"nice":false,"zero":false},"axis":null},"y":{"datum":81.43,"type":"quantitative","scale":{"domain":[20,80],"range":[327.7,25],"nice":false,"zero":false},"axis":null}}},
{"data":{"values":[{}]},"mark":{"type":"point","shape":"M0,1L-0.71,-1L0.71,-1Z","filled":true,"size":196,"color":"#ff0000","opacity":1},
 "encoding":{"x":{"datum":59.28,"type":"quantitative","scale":{"domain":[0,160.8],"range":[89.3,1840.7],"nice":false,"zero":false},"axis":null},"y":{"datum":68.59,"type":"quantitative","scale":{"domain":[20,80],"range":[327.7,25],"nice":false,"zero":false},"axis":null}}},
{"data":{"values":[{}]},"mark":{"type":"text","text":"eHeizstab","font":"Liberation Sans","fontSize":32,"color":"#ff0000","align":"left","baseline":"alphabetic"},
 "encoding":{"x":{"datum":60.29,"type":"quantitative","scale":{"domain":[0,160.8],"range":[89.3,1840.7],"nice":false,"zero":false},"axis":null},"y":{"datum":72.72,"type":"quantitative","scale":{"domain":[20,80],"range":[327.7,25],"nice":false,"zero":false},"axis":null}}},
{"data":{"name":"p"},"mark":{"type":"line","strokeWidth":3,"color":"#4f81bd","strokeJoin":"round"},
 "encoding":{
  "x":{"field":"h","type":"quantitative","scale":{"domain":[0,158.44],"range":[109,1840],"nice":false,"zero":false},
   "axis":{"orient":"bottom","offset":-38.3,"values":[0,24,48,72,96,120,144],"labelExpr":"['Di','Mi','Do','Fr','Sa','So','Mo'][round(datum.value/24)] + ',00:00'","labelFlush":false,"labelOverlap":false,"grid":false,"title":null,"labelFontSize":15,"labelPadding":12,"tickSize":4,"domainColor":"#a0a0a0","tickColor":"#a0a0a0","labelColor":"#262626","labelFont":"Open Sans"}},
  "y":{"field":"p","type":"quantitative","scale":{"domain":[0,8000],"range":[677.7,415.7],"nice":false,"zero":false},
   "axis":{"orient":"left","offset":-109,"values":[0,1000,2000,3000,4000,5000,6000,7000,8000],"format":"d","grid":true,"gridColor":"#a6a6a6","domainColor":"#a0a0a0","tickColor":"#a0a0a0","labelColor":"#262626","labelFont":"Open Sans","labelFontSize":15,"labelPadding":13,"tickSize":4,"labelFlush":false,"title":"Leistung in W","titleFont":"Open Sans","titleFontSize":13,"titleFontWeight":"bold","titleColor":"#000","titleAngle":270,"titleAlign":"center","titleBaseline":"middle","titleX":-66,"titleY":547}}}},
{"data":{"values":[{}]},"mark":{"type":"rule","color":"#c0504d","strokeWidth":3},
 "encoding":{"x":{"datum":1.74,"type":"quantitative","scale":{"domain":[0,158.44],"range":[109,1840],"nice":false,"zero":false},"axis":null},"x2":{"datum":162.5},"y":{"datum":6250,"type":"quantitative","scale":{"domain":[0,8000],"range":[677.7,415.7],"nice":false,"zero":false},"axis":null}}},
{"data":{"values":[{}]},"mark":{"type":"text","text":"eHeizstab","font":"Open Sans","fontSize":16,"color":"#222","align":"left","baseline":"alphabetic"},
 "encoding":{"x":{"datum":152.4,"type":"quantitative","scale":{"domain":[0,158.44],"range":[109,1840],"nice":false,"zero":false},"axis":null},"y":{"datum":6373,"type":"quantitative","scale":{"domain":[0,8000],"range":[677.7,415.7],"nice":false,"zero":false},"axis":null}}},
{"data":{"values":[{}]},"mark":{"type":"text","text":"Allgemeinstromzähler, Dürrenmattweg 55 Allschwil","font":"Open Sans","fontWeight":"bold","fontSize":16.6,"color":"#111","align":"center","baseline":"alphabetic"},
 "encoding":{"x":{"datum":76.98,"type":"quantitative","scale":{"domain":[0,158.44],"range":[109,1840],"nice":false,"zero":false},"axis":null},"y":{"datum":8837,"type":"quantitative","scale":{"domain":[0,8000],"range":[677.7,415.7],"nice":false,"zero":false},"axis":null}}},
{"data":{"name":"r"},"mark":{"type":"rect","fill":"#2f93d5","fillOpacity":0.12,"stroke":"#5586a6","strokeWidth":4,"strokeOpacity":1,"cornerRadius":2},
 "encoding":{"x":{"field":"x1","type":"quantitative","scale":{"domain":[0,160.8],"range":[89.3,1840.7],"nice":false,"zero":false},"axis":null},"x2":{"field":"x2"},
 "y":{"field":"y1","type":"quantitative","scale":{"domain":[20,80],"range":[327.7,25],"nice":false,"zero":false},"axis":null},"y2":{"field":"y2"}}},
{"data":{"name":"r"},"mark":{"type":"text","text":"eHeizstab","font":"Liberation Sans","fontSize":28,"color":"#000","angle":270,"align":"left","baseline":"alphabetic"},
 "encoding":{"x":{"field":"tx","type":"quantitative","scale":{"domain":[0,160.8],"range":[89.3,1840.7],"nice":false,"zero":false},"axis":null},"y":{"field":"ty","type":"quantitative","scale":{"domain":[20,80],"range":[327.7,25],"nice":false,"zero":false},"axis":null}}}
],
"resolve":{"scale":{"x":"independent","y":"independent","color":"independent"},"axis":{"x":"independent","y":"independent"}}
}
